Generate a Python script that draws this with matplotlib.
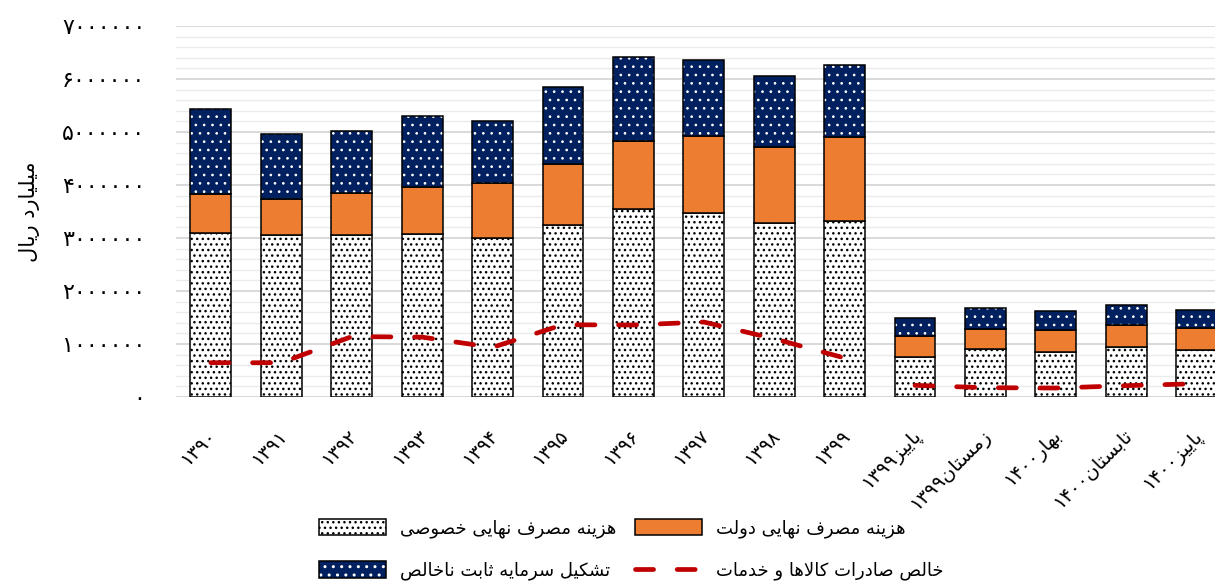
import numpy as np
import matplotlib.pyplot as plt
from matplotlib.ticker import FuncFormatter, MultipleLocator
from matplotlib.transforms import ScaledTranslation
from matplotlib.legend_handler import HandlerTuple

plt.rcParams['font.family'] = ['DejaVu Sans']
plt.rcParams['lines.scale_dashes'] = False

# --- data (billion rials) ---
periods = ['1390', '1391', '1392', '1393', '1394', '1395', '1396', '1397', '1398', '1399',
           'پاییز1399', 'زمستان1399', 'بهار1400', 'تابستان1400', 'پاییز1400']
private = [3089000, 3057000, 3057000, 3076000, 3000000, 3246000, 3547000, 3466000, 3278000, 3327000,
           760000, 906000, 855000, 944000, 887000]
government = [736000, 679000, 787000, 892000, 1032000, 1145000, 1283000, 1454000, 1432000, 1579000,
              391000, 384000, 409000, 421000, 409000]
investment = [1609000, 1227000, 1181000, 1340000, 1176000, 1464000, 1590000, 1445000, 1340000, 1364000,
              334000, 384000, 359000, 365000, 340000]
net_exports = [647000, 647000, 1140000, 1130000, 937000, 1364000, 1359000, 1415000, 1100000, 736000,
               220000, 176000, 170000, 214000, 251000]
n_annual = 10

lbl_private = 'هزینه مصرف نهایی خصوصی'
lbl_gov = 'هزینه مصرف نهایی دولت'
lbl_inv = 'تشکیل سرمایه ثابت ناخالص'
lbl_net = 'خالص صادرات کالاها و خدمات'
ylab = 'میلیارد ریال'

# --- minimal arabic/persian shaping (no raqm available) ---
FORMS = {  # iso, fin, ini, med
    'ا': ('\uFE8D', '\uFE8E', None, None),
    'ب': ('\uFE8F', '\uFE90', '\uFE91', '\uFE92'),
    'پ': ('\uFB56', '\uFB57', '\uFB58', '\uFB59'),
    'ت': ('\uFE95', '\uFE96', '\uFE97', '\uFE98'),
    'ث': ('\uFE99', '\uFE9A', '\uFE9B', '\uFE9C'),
    'خ': ('\uFEA5', '\uFEA6', '\uFEA7', '\uFEA8'),
    'د': ('\uFEA9', '\uFEAA', None, None),
    'ر': ('\uFEAD', '\uFEAE', None, None),
    'ز': ('\uFEAF', '\uFEB0', None, None),
    'س': ('\uFEB1', '\uFEB2', '\uFEB3', '\uFEB4'),
    'ش': ('\uFEB5', '\uFEB6', '\uFEB7', '\uFEB8'),
    'ص': ('\uFEB9', '\uFEBA', '\uFEBB', '\uFEBC'),
    'ف': ('\uFED1', '\uFED2', '\uFED3', '\uFED4'),
    'ک': ('\uFB8E', '\uFB8F', '\uFB90', '\uFB91'),
    'ل': ('\uFEDD', '\uFEDE', '\uFEDF', '\uFEE0'),
    'م': ('\uFEE1', '\uFEE2', '\uFEE3', '\uFEE4'),
    'ن': ('\uFEE5', '\uFEE6', '\uFEE7', '\uFEE8'),
    'ه': ('\uFEE9', '\uFEEA', '\uFEEB', '\uFEEC'),
    'و': ('\uFEED', '\uFEEE', None, None),
    'ی': ('\uFBFC', '\uFBFD', '\uFBFE', '\uFBFF'),
}
FA_DIGITS = str.maketrans('0123456789', '۰۱۲۳۴۵۶۷۸۹')


def dual(c):
    return c in FORMS and FORMS[c][2] is not None


def shape(text):
    out = []
    i = 0
    while i < len(text):
        c = text[i]
        if c not in FORMS:
            out.append(c)
            i += 1
            continue
        prev = text[i - 1] if i > 0 else ''
        joins_prev = dual(prev)
        if c == 'ل' and i + 1 < len(text) and text[i + 1] == 'ا':
            out.append('\uFEFC' if joins_prev else '\uFEFB')
            i += 2
            continue
        nxt = text[i + 1] if i + 1 < len(text) else ''
        joins_next = dual(c) and nxt in FORMS
        f = FORMS[c]
        if joins_prev and joins_next:
            out.append(f[3])
        elif joins_prev:
            out.append(f[1])
        elif joins_next:
            out.append(f[2])
        else:
            out.append(f[0])
        i += 1
    # visual order: reverse, but keep digit runs left-to-right
    rev = ''.join(reversed(out))
    res, run = [], ''
    for ch in rev:
        if ch.isdigit():
            run += ch
        else:
            if run:
                res.append(run[::-1])
                run = ''
            res.append(ch)
    if run:
        res.append(run[::-1])
    return ''.join(res)


def fa(text):
    return shape(text.translate(FA_DIGITS))


# --- plot ---
fig = plt.figure(figsize=(12.26, 5.86), dpi=100)
ax = fig.add_axes([0.1433, 0.3225, 0.8477, 0.6331])

x = np.arange(len(periods))
w = 0.58
priv = np.array(private)
gov = np.array(government)
inv = np.array(investment)

b1 = ax.bar(x, priv, w, color='white', edgecolor='black', hatch='...', linewidth=1.1, zorder=2)
b2 = ax.bar(x, gov, w, bottom=priv, color='#ED7D31', edgecolor='black', linewidth=1.1, zorder=2)
plt.rcParams['hatch.linewidth'] = 0.7
b3 = ax.bar(x, inv, w, bottom=priv + gov, color='#002060', edgecolor='white', hatch='..',
            linewidth=0, zorder=2)
plt.rcParams['hatch.linewidth'] = 1.0
b3e = ax.bar(x, inv, w, bottom=priv + gov, fill=False, edgecolor='black', linewidth=1.1, zorder=2)

net = np.array(net_exports)
ln, = ax.plot(x[:n_annual], net[:n_annual], color='#C00000', lw=3.4, dashes=(13, 17),
              dash_capstyle='round', zorder=3)
ax.plot(x[n_annual:], net[n_annual:], color='#C00000', lw=3.4, dashes=(13, 17),
        dash_capstyle='round', zorder=3)

ax.set_xlim(-0.5, 14.26)
ax.set_ylim(0, 7000000)
ax.yaxis.set_major_locator(MultipleLocator(1000000))
ax.yaxis.set_minor_locator(MultipleLocator(200000))
ax.yaxis.set_major_formatter(FuncFormatter(lambda v, p: fa(str(int(round(v))))))
ax.grid(axis='y', which='major', color='#d0d0d0', lw=1.1)
ax.grid(axis='y', which='minor', color='#ebebeb', lw=1.0)
ax.set_axisbelow(True)
for s in ax.spines.values():
    s.set_visible(False)
ax.tick_params(axis='both', which='both', length=0)
ax.tick_params(axis='y', pad=22, labelsize=16)

ax.set_xticks(x)
ax.set_xticklabels([fa(p) for p in periods], rotation=45, ha='right', rotation_mode='anchor',
                   fontsize=14)
offset = ScaledTranslation(-3 / 72, -17 / 72, fig.dpi_scale_trans)
for lab in ax.get_xticklabels():
    lab.set_transform(lab.get_transform() + offset)

ax.set_ylabel(fa(ylab), fontsize=15, labelpad=16)

fig.legend(handles=[b1, (b3, b3e), b2, ln],
           labels=[fa(lbl_private), fa(lbl_inv), fa(lbl_gov), fa(lbl_net)],
           ncol=2, loc='center', bbox_to_anchor=(0.515, 0.062), frameon=False, fontsize=13,
           handlelength=3.7, handleheight=1.0, labelspacing=1.3, columnspacing=1.0,
           handler_map={tuple: HandlerTuple(ndivide=1, pad=0)})

fig.savefig('out.png', dpi=100)
